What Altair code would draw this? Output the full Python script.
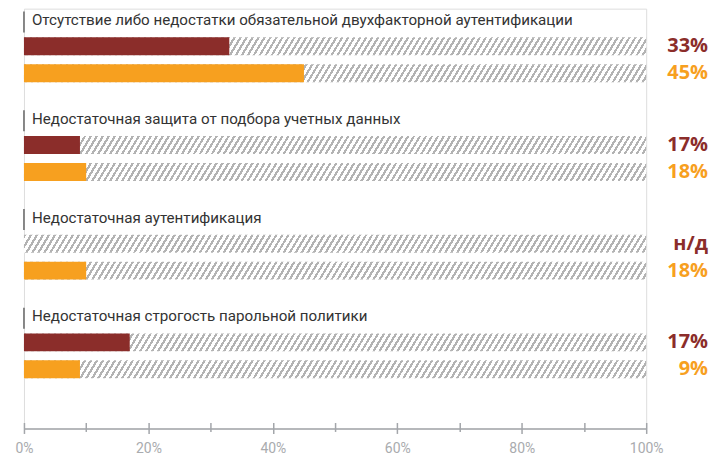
import altair as alt
import pandas as pd

categories = [
    "Отсутствие либо недостатки обязательной двухфакторной аутентификации",
    "Недостаточная защита от подбора учетных данных",
    "Недостаточная аутентификация",
    "Недостаточная строгость парольной политики",
]
# bar lengths as drawn in the picture (percent)
bars_dark = [33, 9, None, 17]
bars_orange = [45, 10, 10, 9]
# value labels as printed
labels_dark = ["33%", "17%", "н/д", "17%"]
labels_orange = ["45%", "18%", "18%", "9%"]
axis_values = [0, 20, 40, 60, 80, 100]
tick_values = [0, 10, 20, 30, 40, 50, 60, 70, 80, 90, 100]

DARK = "#8b2d2a"
ORANGE = "#f7a01f"
GRAY_HATCH = "#b3b3b3"
AXIS_GRAY = "#a3a6aa"

W, H = 624, 421
GROUP = 3.667
BAR_HALF = 0.333

rows = []
labels_rows = []
for g, cat in enumerate(categories):
    base = g * GROUP
    labels_rows.append({"cat": cat, "row": base + 0.03, "top": base - 0.29, "bot": base + 0.49, "start": 0})
    for k, (vals, labs, col) in enumerate([(bars_dark, labels_dark, DARK), (bars_orange, labels_orange, ORANGE)]):
        r = base + k + 1
        rows.append({
            "row": r, "y0": r - BAR_HALF, "y1": r + BAR_HALF,
            "start": 0, "end": 100, "value": vals[g], "label": labs[g], "color": col,
        })
bars = pd.DataFrame(rows)
labs = pd.DataFrame(labels_rows)

# diagonal hatch as a striped linear gradient
bar_px_h = 18
s = 0.6 * bar_px_h / W
L = 1 + s + 0.01
period = (6 / W) / (L * (1 + s * s))
stops = []
t = 0.0
while t < 1.0:
    b = min(t + 0.42 * period, 1.0)
    c = min(t + period, 1.0)
    stops += [
        alt.GradientStop(offset=round(t, 5), color=GRAY_HATCH),
        alt.GradientStop(offset=round(b, 5), color=GRAY_HATCH),
        alt.GradientStop(offset=round(b, 5), color="#ffffff"),
        alt.GradientStop(offset=round(c, 5), color="#ffffff"),
    ]
    t += period
hatch_fill = alt.Gradient(gradient="linear", stops=stops, x1=0, y1=0, x2=L, y2=L * s)

xscale = alt.Scale(domain=[0, 100], nice=False, zero=True)
yscale = alt.Scale(domain=[-0.4, 15.2], reverse=True, nice=False, zero=False)

axis_main = alt.Axis(
    orient="bottom", values=axis_values, labelExpr="datum.value + '%'",
    domain=True, domainColor=AXIS_GRAY, domainWidth=1.5,
    ticks=False, tickSize=0, grid=False, labelPadding=13, labelFlush=False,
    labelColor="#a9abae", labelFontSize=14, labelFont="Roboto",
    title=None,
)
axis_ticks = alt.Axis(
    orient="bottom", values=tick_values, labels=False, domain=False, grid=False,
    ticks=True, tickColor=AXIS_GRAY, tickWidth=1.5,
    tickSize={"condition": {"test": "datum.value % 20 === 0", "value": 11}, "value": 9},
    offset=-6, title=None,
)

hatch = alt.Chart(bars).mark_rect(fill=hatch_fill).encode(
    x=alt.X("start:Q", scale=xscale, axis=axis_main),
    x2="end:Q",
    y=alt.Y("y0:Q", scale=yscale, axis=None),
    y2="y1:Q",
)

colored = alt.Chart(bars).transform_filter("isValid(datum.value)").mark_rect().encode(
    x=alt.X("start:Q", scale=xscale, axis=axis_ticks),
    x2="value:Q",
    y=alt.Y("y0:Q", scale=yscale, axis=None),
    y2="y1:Q",
    color=alt.Color("color:N", scale=None, legend=None),
)

value_text = alt.Chart(bars).mark_text(
    align="right", baseline="middle", dx=62, fontSize=20, fontWeight="bold", font="Open Sans",
).encode(
    x=alt.X("end:Q", scale=xscale, axis=None),
    y=alt.Y("row:Q", scale=yscale, axis=None),
    text="label:N",
    color=alt.Color("color:N", scale=None, legend=None),
)

cat_text = alt.Chart(labs).mark_text(
    align="left", baseline="middle", dx=8, fontSize=15.2, font="Roboto", color="#333333",
).encode(
    x=alt.X("start:Q", scale=xscale, axis=None),
    y=alt.Y("row:Q", scale=yscale, axis=None),
    text="cat:N",
)

cat_rule = alt.Chart(labs).mark_rule(color="#666666", strokeWidth=1.5).encode(
    x=alt.X("start:Q", scale=xscale, axis=None),
    y=alt.Y("top:Q", scale=yscale, axis=None),
    y2="bot:Q",
)

chart = alt.layer(hatch, colored, value_text, cat_text, cat_rule).resolve_axis(
    x="independent"
).properties(
    width=W, height=H,
    autosize=alt.AutoSizeParams(type="none"),
    padding={"left": 16, "right": 70, "top": 0, "bottom": 40},
).configure_view(stroke=None).configure(background="white")

chart.save("out.html", embed_options={"renderer": "svg", "actions": False})
